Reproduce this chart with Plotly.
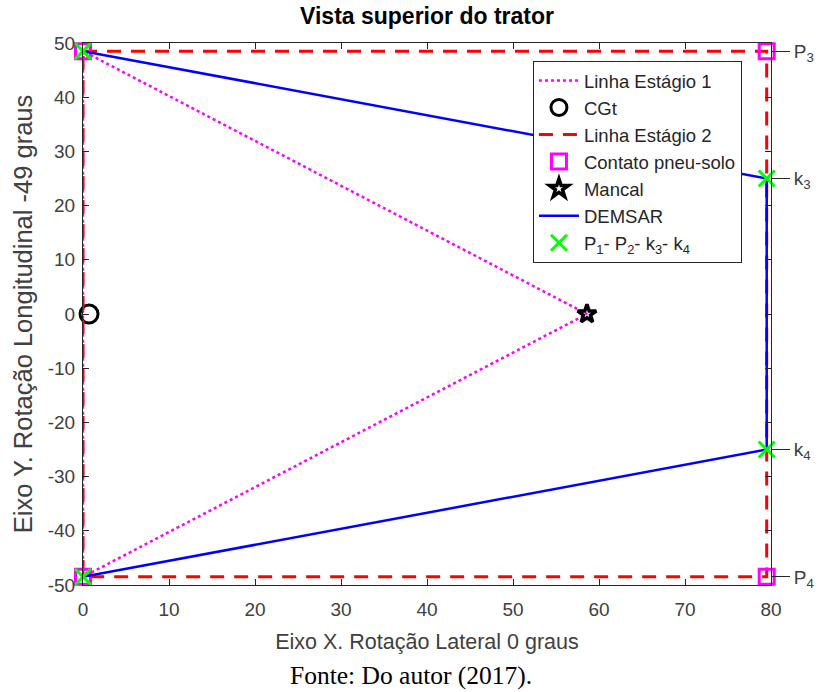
import plotly.graph_objects as go

# Geometry of the tractor top view (x: lateral, y: longitudinal)
stage1_x = [0, 0, 58.6, 0]
stage1_y = [-48.5, 48.5, 0, -48.5]

cg_x = [0.7]
cg_y = [0]

stage2_x = [0, 79.5, 79.5, 0, 0]
stage2_y = [48.5, 48.5, -48.5, -48.5, 48.5]

contact_x = [0, 79.5, 79.5, 0]
contact_y = [48.5, 48.5, -48.5, -48.5]

bearing_x = [58.6]
bearing_y = [0]

demsar_x = [0, 79.5, 79.5, 0]
demsar_y = [48.5, 25, -25, -48.5]

points_x = [0, 0, 79.5, 79.5]
points_y = [48.5, -48.5, 25, -25]

x_ticks = [0, 10, 20, 30, 40, 50, 60, 70, 80]
y_ticks = [-50, -40, -30, -20, -10, 0, 10, 20, 30, 40, 50]
y_tick_text = ["-50", "-40", "-30", "-20", "-10", "0", "10", "20", "30", "40", "50"]
right_tick_vals = [48.5, 25, -25, -48.5]
right_tick_text = ["P<sub>3</sub>", "k<sub>3</sub>", "k<sub>4</sub>", "P<sub>4</sub>"]

axis_color = "#262626"
text_color = "#404040"
font_family = "Liberation Sans, Arial, sans-serif"

fig = go.Figure()

fig.add_trace(go.Scatter(
    x=stage1_x, y=stage1_y, mode="lines", name="Linha Estágio 1",
    line=dict(color="#ff00ff", width=2.5, dash="dot"), cliponaxis=False))
fig.add_trace(go.Scatter(
    x=cg_x, y=cg_y, mode="markers", name="CGt",
    marker=dict(symbol="circle-open", size=18, color="black", line=dict(width=3)),
    cliponaxis=False))
fig.add_trace(go.Scatter(
    x=stage2_x, y=stage2_y, mode="lines", name="Linha Estágio 2",
    line=dict(color="#ff0000", width=3, dash="14px,10px"), cliponaxis=False))
fig.add_trace(go.Scatter(
    x=contact_x, y=contact_y, mode="markers", name="Contato pneu-solo",
    marker=dict(symbol="square-open", size=15, color="#ff00ff", line=dict(width=3)),
    cliponaxis=False))
fig.add_trace(go.Scatter(
    x=bearing_x, y=bearing_y, mode="markers", name="Mancal",
    marker=dict(symbol="star-open", size=14, color="black", line=dict(width=3.5)),
    cliponaxis=False))
fig.add_trace(go.Scatter(
    x=demsar_x, y=demsar_y, mode="lines", name="DEMSAR",
    line=dict(color="#0000ff", width=2.5), cliponaxis=False))
fig.add_trace(go.Scatter(
    x=points_x, y=points_y, mode="markers",
    name="P<sub>1</sub>- P<sub>2</sub>- k<sub>3</sub>- k<sub>4</sub>",
    marker=dict(symbol="x-thin-open", size=16, color="#00ff00", line=dict(width=3, color="#00ff00")),
    cliponaxis=False))

# Invisible trace carrying the right-hand labelled axis
fig.add_trace(go.Scatter(x=[0], y=[0], yaxis="y2", mode="markers",
                         marker=dict(opacity=0), showlegend=False, hoverinfo="skip"))

fig.update_layout(
    width=825, height=692,
    margin=dict(l=83, r=54, t=43, b=107),
    paper_bgcolor="white", plot_bgcolor="white",
    font=dict(family=font_family, color=text_color, size=19),
    title=dict(text="<b>Vista superior do trator</b>", x=0.5, xref="paper",
               y=1 - 16 / 692, yref="container", yanchor="middle",
               font=dict(size=23, color="black")),
    xaxis=dict(range=[0, 80], tickvals=x_ticks, ticks="inside", ticklen=6,
               showline=True, linecolor=axis_color, linewidth=1, mirror="ticks",
               tickcolor=axis_color, showgrid=False, zeroline=False,
               tickfont=dict(size=19), ticklabelstandoff=7,
               title=dict(text="Eixo X. Rotação Lateral 0 graus", font=dict(size=21.5), standoff=15)),
    yaxis=dict(range=[-50, 50], tickvals=y_ticks, ticktext=y_tick_text, ticks="inside", ticklen=6,
               showline=True, linecolor=axis_color, linewidth=1, mirror="ticks",
               tickcolor=axis_color, showgrid=False, zeroline=False,
               tickfont=dict(size=19), ticklabelstandoff=3,
               title=dict(text="Eixo Y. Rotação Longitudinal -49 graus", font=dict(size=25.5), standoff=7)),
    yaxis2=dict(range=[-50, 50], overlaying="y", side="right", tickvals=right_tick_vals,
                ticktext=right_tick_text, ticks="outside", ticklen=18, tickcolor=axis_color,
                showline=False, showgrid=False, zeroline=False, tickfont=dict(size=19)),
    legend=dict(x=0.654, y=0.967, xanchor="left", yanchor="top",
                bgcolor="white", bordercolor=axis_color, borderwidth=1,
                font=dict(size=18.5, color="#262626"), tracegroupgap=0, itemwidth=40),
    showlegend=True,
)

fig.add_annotation(text="Fonte: Do autor (2017).", xref="paper", yref="paper",
                   x=(411 - 83) / 688, y=(585 - 675) / 542, xanchor="center", yanchor="middle",
                   showarrow=False,
                   font=dict(family="Liberation Serif, Times New Roman, serif", size=25.5, color="black"))

fig.write_html("out.html")
